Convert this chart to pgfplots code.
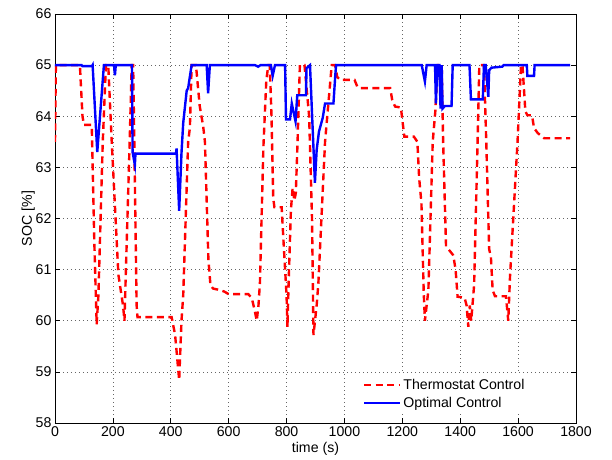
\documentclass[border=0pt]{standalone}
\usepackage{fontspec}
\setmainfont{Liberation Sans}
\usepackage{pgfplots}
\pgfplotsset{compat=1.18}

% SOC traces
\pgfplotstableread{
t soc
0 63.5
3 65
86 65
95 64.0
100 63.83
127 63.83
136 61.5
144 59.93
150 60.5
165 63.5
176 65
184 65
196 63.5
219 60.9
235 60.3
240 60.0
245 61.0
258 63.5
265 65
270 65
274 63.5
282 60.3
285 60.07
403 60.07
415 59.72
429 58.84
437 60.0
443 60.5
460 63.5
466 63.77
472 65
487 65
500 64.2
512 63.8
518 63.5
530 61.2
537 60.7
546 60.63
570 60.6
585 60.57
600 60.52
668 60.52
680 60.44
690 60.2
697 60.0
703 60.3
708 60.74
720 63.4
730 64.7
737 65
742 65
748 64.0
754 62.4
758 62.22
783 62.22
790 61.5
800 60.5
803 59.88
808 60.9
815 62.16
821 62.6
827 62.35
832 62.5
838 63.5
846 65
862 65
878 64.0
888 62.0
893 59.72
904 60.3
910 60.74
933 63.5
956 65
968 65
975 64.77
985 64.71
1035 64.71
1045 64.57
1055 64.55
1158 64.55
1165 64.32
1175 64.19
1195 64.17
1200 63.93
1207 63.6
1240 63.6
1252 63.5
1258 62.8
1262 62.55
1266 62.3
1274 60.53
1278 60.0
1290 60.6
1305 63.5
1314 64.1
1322 65
1336 65
1341 63.5
1351 61.45
1362 61.38
1376 61.28
1384 61.0
1391 60.47
1415 60.45
1422 60.3
1428 59.88
1433 60.3
1438 60.0
1448 60.7
1460 63.5
1466 65
1482 65
1490 63.5
1500 61.4
1506 61.25
1512 60.6
1520 60.48
1558 60.48
1566 60.0
1572 60.86
1598 63.5
1610 65
1615 65
1625 64.1
1632 64.02
1648 64.02
1655 63.77
1668 63.67
1690 63.57
1780 63.57
}\thermo

\pgfplotstableread{
t soc
0 65
92 65
95 64.98
128 64.98
130 65
146 63.3
169 65
204 65
207 64.8
210 65
266 65
268 63.3
276 63.05
278 63.27
418 63.27
420 63.37
429 62.15
437 63.28
443 63.87
455 64.5
460 64.55
472 65
524 65
529 64.45
535 65
691 65
702 64.97
710 65
746 65
752 64.79
760 65
795 65
798 63.94
812 63.94
818 64.25
831 63.9
837 64.41
867 64.41
869 64.94
881 65
898 62.7
904 63.34
912 63.7
925 63.97
933 64.25
962 64.25
968 64.77
971 65
1267 65
1278 64.68
1284 65
1313 65
1316 64.25
1321 65
1328 65
1332 64.15
1336 65
1339 64.15
1347 64.2
1370 64.2
1374 65
1432 65
1437 64.33
1478 64.33
1482 65
1488 65
1497 64.38
1500 64.9
1508 64.95
1545 64.97
1550 65
1630 65
1632 64.79
1655 64.79
1657 65
1780 65
}\optimal

\begin{document}
\begin{tikzpicture}
\begin{axis}[
    name=ax,
    scale only axis,
    width=521bp, height=409bp,
    xmin=0, xmax=1800,
    ymin=58, ymax=66,
    xtick={0,200,...,1800},
    ytick={58,59,...,66},
    grid=major,
    major grid style={black!60, line width=0.6bp, dash pattern=on 0.8bp off 3.2bp},
    axis line style={line width=0.8bp},
    major tick length=5bp,
    tick style={black, line width=0.6bp},
    tick label style={font=\fontsize{14.2}{17}\selectfont},
    /pgf/number format/assume math mode=true,
    /pgf/number format/1000 sep={},
    label style={font=\fontsize{14.2}{17}\selectfont},
    xlabel={time (s)},
    ylabel={SOC [\%]},
    xlabel style={yshift=1bp},
    ylabel style={yshift=-6bp},
    legend style={
        at={(rel axis cs:0.585,0.022)}, anchor=south west,
        draw=none, fill=white,
        font=\fontsize{14.2}{17}\selectfont,
        row sep=2bp, inner sep=3bp,
    },
    legend cell align=left,
    legend image code/.code={\draw[#1] (0bp,0bp) -- (36bp,0bp);},
]
\addplot[red, line width=2.4bp, dash pattern=on 7bp off 4.5bp] table[x=t, y=soc] {\thermo};
\addlegendentry{Thermostat Control}
\addplot[blue, line width=2.4bp] table[x=t, y=soc] {\optimal};
\addlegendentry{Optimal Control}
\end{axis}
\pgfresetboundingbox
\path ([xshift=-55bp,yshift=-37bp]ax.south west) rectangle ([xshift=36bp,yshift=14bp]ax.north east);
\end{tikzpicture}
\end{document}
